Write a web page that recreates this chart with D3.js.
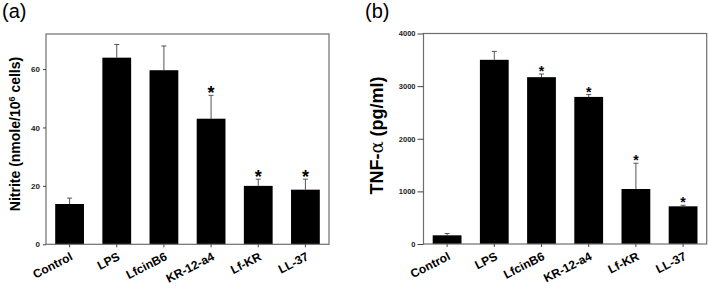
<!DOCTYPE html>
<html>
<head>
<meta charset="utf-8">
<script src="https://cdn.jsdelivr.net/npm/d3@7"></script>
<style>
body{margin:0;background:#fff}
svg{display:block;font-family:'Liberation Sans',Arial,sans-serif}
</style>
</head>
<body>
<svg id="chart"></svg>
<script>
/*Données*/
const categories = ['Control','LPS','LfcinB6','KR-12-a4','Lf-KR','LL-37']

const nitrite    = [13.8, 63.9, 59.6, 43.0, 20.0, 18.7]
const nitriteErr = [2.0, 4.5, 8.3, 8.0, 2.3, 3.6]
const nitriteSig = [false, false, false, true, true, true]
const nitriteTicks = [0, 20, 40, 60]

const tnf    = [165, 3500, 3170, 2795, 1045, 716]
const tnfErr = [35, 160, 60, 45, 490, 20]
const tnfSig = [false, false, true, true, true, true]
const tnfTicks = [0, 1000, 2000, 3000, 4000]

const width = 708, height = 288

const svg = d3.select('#chart')
              .attr('width', width)
              .attr('height', height)

/*Dessine un panneau (barres, erreurs, étoiles, axes)*/
const drawPanel = (p) => {
    const g = svg.append('g')

    const xScale = d3.scaleBand()
                     .domain(categories)
                     .range([p.left, p.right])
                     .paddingInner(0.39)
                     .paddingOuter(0.195)

    const yScale = d3.scaleLinear()
                     .domain([0, p.yMax])
                     .range([p.bottom, p.top])

    const rows = categories.map((c, i) => ({cat: c, v: p.values[i], e: p.errors[i], s: p.sig[i]}))
    const cx = d => xScale(d.cat) + xScale.bandwidth() / 2

    // barres d'erreur (vers le haut seulement)
    g.selectAll('line.err')
     .data(rows)
     .enter()
     .append('line')
     .attr('x1', cx).attr('x2', cx)
     .attr('y1', d => yScale(d.v))
     .attr('y2', d => yScale(d.v + d.e))
     .attr('stroke', '#555')
     .attr('stroke-width', 1)

    g.selectAll('line.cap')
     .data(rows)
     .enter()
     .append('line')
     .attr('x1', d => cx(d) - 2.5).attr('x2', d => cx(d) + 2.5)
     .attr('y1', d => yScale(d.v + d.e))
     .attr('y2', d => yScale(d.v + d.e))
     .attr('stroke', '#555')
     .attr('stroke-width', 1)

    // barres
    g.selectAll('rect.bar')
     .data(rows)
     .enter()
     .append('rect')
     .attr('x', d => xScale(d.cat))
     .attr('y', d => yScale(d.v))
     .attr('width', xScale.bandwidth())
     .attr('height', d => yScale(0) - yScale(d.v))
     .attr('fill', '#000')

    // étoiles de significativité
    g.selectAll('text.star')
     .data(rows.filter(d => d.s))
     .enter()
     .append('text')
     .attr('x', cx)
     .attr('y', d => yScale(d.v + d.e) + p.starDy)
     .attr('text-anchor', 'middle')
     .style('font-size', p.starSize + 'px')
     .style('font-weight', 'bold')
     .text('*')

    // cadre
    g.append('rect')
     .attr('x', p.left)
     .attr('y', p.top)
     .attr('width', p.right - p.left)
     .attr('height', p.bottom - p.top)
     .attr('fill', 'none')
     .attr('stroke', '#6e6e6e')
     .attr('stroke-width', 1.2)

    // axe des y
    const yAxis = d3.axisLeft(yScale)
                    .tickValues(p.ticks)
                    .tickFormat(d3.format('d'))
                    .tickSize(p.tickLen)
                    .tickPadding(p.tickPad)
                    .tickSizeOuter(0)
    const ya = g.append('g')
                .attr('transform', 'translate(' + p.left + ',0)')
                .call(yAxis)
    ya.select('.domain').remove()
    ya.selectAll('line').attr('stroke', '#444')
    ya.selectAll('text')
      .attr('fill', '#222')
      .style('font-size', p.tickFont + 'px')
      .style('font-weight', 'bold')
      .style('font-family', "'Liberation Sans',Arial,sans-serif")

    // axe des x
    const xAxis = d3.axisBottom(xScale)
                    .tickSize(3)
                    .tickSizeOuter(0)
    const xa = g.append('g')
                .attr('transform', 'translate(0,' + p.bottom + ')')
                .call(xAxis)
    xa.select('.domain').remove()
    xa.selectAll('line').attr('stroke', '#444')
    xa.selectAll('text')
      .attr('fill', '#000')
      .attr('text-anchor', 'end')
      .attr('dy', null)
      .attr('y', 0)
      .attr('transform', 'translate(4,15) rotate(-27)')
      .style('font-size', '12px')
      .style('font-weight', 'bold')
      .style('font-family', "'Liberation Sans',Arial,sans-serif")

    // étiquette du panneau
    svg.append('text')
       .attr('x', p.tagX)
       .attr('y', 18)
       .style('font-size', '20px')
       .text(p.tag)
}

drawPanel({
    left: 46, right: 329, top: 34, bottom: 244.3, yMax: 72,
    values: nitrite, errors: nitriteErr, sig: nitriteSig, ticks: nitriteTicks,
    tickLen: 3, tickPad: 3, tickFont: 8, starSize: 18, starDy: 3.5,
    tag: '(a)', tagX: 2
})

drawPanel({
    left: 423.5, right: 706.7, top: 33.5, bottom: 244, yMax: 4000,
    values: tnf, errors: tnfErr, sig: tnfSig, ticks: tnfTicks,
    tickLen: 6, tickPad: 2, tickFont: 7.5, starSize: 14, starDy: 2,
    tag: '(b)', tagX: 365
})

/*Titres des axes y*/
const yTitleA = svg.append('text')
                   .attr('transform', 'translate(20,134) rotate(-90)')
                   .attr('text-anchor', 'middle')
                   .style('font-size', '14px')
                   .style('font-weight', 'bold')
yTitleA.append('tspan').text('Nitrite (nmole/10')
yTitleA.append('tspan').attr('dy', -5).style('font-size', '9px').text('6')
yTitleA.append('tspan').attr('dy', 5).text(' cells)')

const yTitleB = svg.append('text')
                   .attr('transform', 'translate(383,135.5) rotate(-90)')
                   .attr('text-anchor', 'middle')
                   .style('font-size', '18px')
                   .style('font-weight', 'bold')
yTitleB.append('tspan').text('TNF-')
yTitleB.append('tspan').style('font-weight', 'normal').style('font-family', "'DejaVu Serif',serif").text('α')
yTitleB.append('tspan').text(' (pg/ml)')
</script>
</body>
</html>
